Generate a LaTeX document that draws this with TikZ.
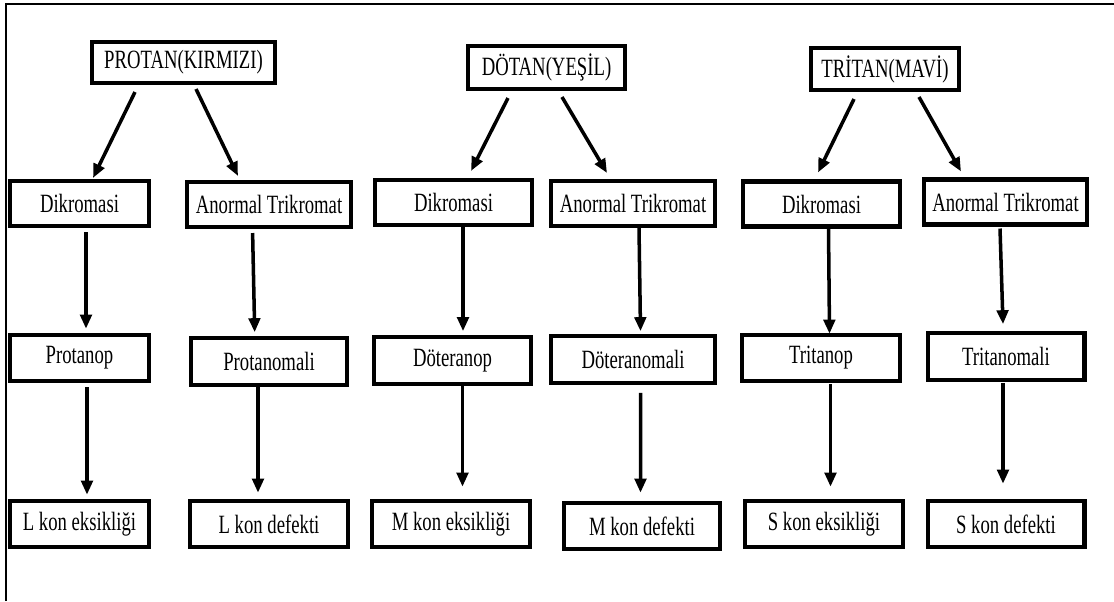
\documentclass[tikz,border=0pt]{standalone}
\usepackage{fontspec}
\setmainfont{Liberation Serif}[FakeStretch=0.71]
\usetikzlibrary{arrows.meta}

\begin{document}
\begin{tikzpicture}[x=0.02cm, y=-0.02cm,
    kutu/.style={draw, line width=2.3pt, inner sep=0pt, minimum height=9.3mm,
      font=\fontsize{15}{17}\selectfont},
    ok/.style={line width=2pt, -{Triangle[length=8pt, width=6.5pt]}}]
      \useasboundingbox (0,0) rectangle (1114,601);
      % frame
      \draw[line width=1.2pt] (6,601) -- (6,4) -- (1114,4);
      % top line
      \node[kutu, minimum width=36.6mm, minimum height=8.2mm] at (183.5, 62.5) (prot) {PROTAN(KIRMIZI)};
      \node[kutu, minimum width=31.4mm, minimum height=8.6mm] at (546.5, 67.5) (dot) {DÖTAN(YEŞİL)};
      \node[kutu, minimum width=29.6mm, minimum height=8.4mm] at (885, 69) (tri) {TRİTAN(MAVİ)};
      % second line
      \node[kutu, minimum width=27.8mm, minimum height=9mm] at (79.5, 203.5) (dik1) {Dikromasi};
      \node[kutu, minimum width=32.8mm, minimum height=9mm] at (269, 204.5) (anorm1) {Anormal Trikromat};
      \node[kutu, minimum width=31.4mm, minimum height=9mm] at (453.5, 202.5) (dik2) {Dikromasi};
      \node[kutu, minimum width=32.8mm, minimum height=9mm] at (633, 203.5) (anorm2) {Anormal Trikromat};
      \node[kutu, minimum width=31.4mm, minimum height=9mm] at (821.5, 204) (dik3) {Dikromasi};
      \node[kutu, minimum width=32.6mm, minimum height=9mm] at (1005.5, 202) (anorm3) {Anormal Trikromat};
      \draw[ok] ([shift={(-48.5,7)}]prot.south) -- ([shift={(13.5,-1)}]dik1.north);
      \draw[ok] ([shift={(12.5,4)}]prot.south) -- ([shift={(-31,-4)}]anorm1.north);
      \draw[ok] ([shift={(-38.5,7)}]dot.south) -- ([shift={(17.5,-7)}]dik2.north);
      \draw[ok] ([shift={(15.5,6)}]dot.south) -- ([shift={(-26,-6)}]anorm2.north);
      \draw[ok] ([shift={(-31,7)}]tri.south) -- ([shift={(-3.5,-7)}]dik3.north);
      \draw[ok] ([shift={(34,5)}]tri.south) -- ([shift={(-44.5,-6)}]anorm3.north);
      % third line
      \node[kutu, minimum width=27.8mm] at (79.5, 358) (protanop) {Protanop};
      \node[kutu, minimum width=31.2mm] at (269, 361.5) (protanomali) {Protanomali};
      \node[kutu, minimum width=31.4mm] at (452.5, 360.5) (doteranop) {Döteranop};
      \node[kutu, minimum width=32.8mm] at (633, 359.5) (doteranomali) {Döteranomali};
      \node[kutu, minimum width=31.6mm] at (821, 358) (tritanop) {Tritanop};
      \node[kutu, minimum width=31.4mm] at (1006, 356.5) (tritanomali) {Tritanomali};
      \draw[ok] ([shift={(6.5,4)}]dik1.south) -- ([shift={(6.5,-4)}]protanop.north);
      \draw[ok] ([shift={(-16.4,4)}]anorm1.south) -- ([shift={(-14.3,-4)}]protanomali.north);
      \draw[ok] ([shift={(9.5,0)}]dik2.south) -- ([shift={(10.5,-4)}]doteranop.north);
      \draw[ok] ([shift={(6,0)}]anorm2.south) -- ([shift={(7.5,-3)}]doteranomali.north);
      \draw[ok] ([shift={(7,0)}]dik3.south) -- ([shift={(8.5,1)}]tritanop.north);
      \draw[ok] ([shift={(-5.5,2)}]anorm3.south) -- ([shift={(-3,-7)}]tritanomali.north);
      % forth line
      \node[kutu, minimum width=27.8mm] at (79.5, 524) (leks) {L kon eksikliği};
      \node[kutu, minimum width=31.6mm] at (269, 524) (ldef) {L kon defekti};
      \node[kutu, minimum width=31.6mm] at (451, 524) (meks) {M kon eksikliği};
      \node[kutu, minimum width=31.2mm] at (642, 526) (mdef) {M kon defekti};
      \node[kutu, minimum width=31.6mm] at (824, 524) (seks) {S kon eksikliği};
      \node[kutu, minimum width=31.4mm] at (1006, 524) (sdef) {S kon defekti};
      \draw[ok] ([shift={(7.5,4)}]protanop.south) -- ([shift={(7.5,-4)}]leks.north);
      \draw[ok] ([shift={(-11,0)}]protanomali.south) -- ([shift={(-11,-6)}]ldef.north);
      \draw[ok] ([shift={(10,0)}]doteranop.south) -- ([shift={(11.5,-12)}]meks.north);
      \draw[ok] ([shift={(7.5,8)}]doteranomali.south) -- ([shift={(-1.5,-8)}]mdef.north);
      \draw[ok] ([shift={(9.5,1)}]tritanop.south) -- ([shift={(6.5,-12)}]seks.north);
      \draw[ok] ([shift={(-3,1)}]tritanomali.south) -- ([shift={(-3,-15)}]sdef.north);
    \end{tikzpicture}
\end{document}
